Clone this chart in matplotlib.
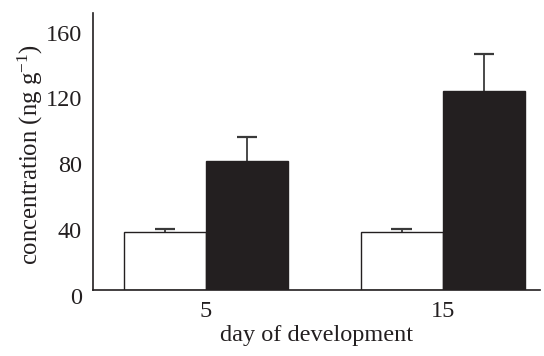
import matplotlib
matplotlib.use("Agg")
import matplotlib.pyplot as plt
import matplotlib.transforms as mtransforms
import numpy as np

days = ["5", "15"]
white_vals = [35.3, 35.3]
white_err = [2.1, 2.1]
black_vals = [78.5, 121.3]
black_err = [14.8, 22.3]
yticks = [0, 40, 80, 120, 160]

plt.rcParams['font.family'] = ['Liberation Serif', 'DejaVu Serif']
plt.rcParams['mathtext.fontset'] = 'custom'
plt.rcParams['mathtext.rm'] = 'Liberation Serif'
plt.rcParams['mathtext.it'] = 'Liberation Serif:italic'

W, H = 544, 356
fig = plt.figure(figsize=(W/100, H/100), dpi=100)
ax = fig.add_axes([93/W, (H-290)/H, (540-93)/W, (290-13)/H])

x = np.arange(len(days))
bw = 0.3465
capw = 0.043
dark = '#231f20'
ecol = '#3a3a3a'
ax.bar(x - bw/2, white_vals, bw, color='white', edgecolor=dark, linewidth=1.0, zorder=2)
ax.bar(x + bw/2, black_vals, bw, color=dark, edgecolor=dark, linewidth=1.0, zorder=2)

for xs, vals, errs in [(x - bw/2, white_vals, white_err), (x + bw/2, black_vals, black_err)]:
    vals = np.array(vals)
    errs = np.array(errs)
    ax.vlines(xs, vals, vals + errs, color=ecol, linewidth=1.3, zorder=1)
    ax.hlines(vals + errs, xs - capw, xs + capw, color=ecol, linewidth=1.6, zorder=1)

ax.set_xlim(-0.477, 1.411)
ax.set_ylim(0, 168.5)
ax.set_xticks(x)
ax.set_xticklabels(days)
ax.set_yticks(yticks)
ax.set_yticklabels([str(v) for v in yticks])
ax.tick_params(axis='both', length=0, labelsize=17.5, colors='#231f20')
ax.tick_params(axis='y', pad=8)
ax.tick_params(axis='x', pad=8)

off = mtransforms.ScaledTranslation(0, -5.7/100, fig.dpi_scale_trans)
for lab in ax.get_yticklabels():
    lab.set_transform(lab.get_transform() + off)

for s in ['top', 'right']:
    ax.spines[s].set_visible(False)
for s in ['left', 'bottom']:
    ax.spines[s].set_color('#231f20')
    ax.spines[s].set_linewidth(1.2)

fig.text(316.7/W, 1 - 335/H, 'day of development', ha='center', va='center',
         fontsize=17.5, color='#231f20')
fig.text(30/W, 1 - 155/H, 'concentration (ng g$^{-1}$)', ha='center', va='center',
         rotation=90, fontsize=17.8, color='#231f20')

fig.savefig('out.png', dpi=100)
